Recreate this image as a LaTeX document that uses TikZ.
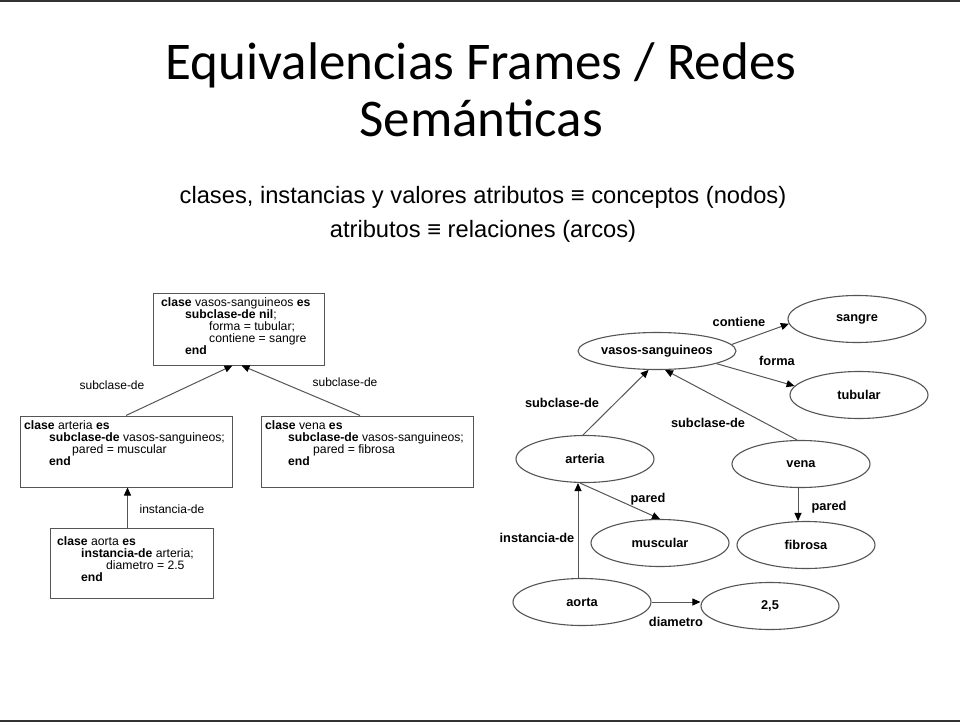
\documentclass[tikz,border=0pt]{standalone}
\usepackage{fontspec}
\setmainfont{Liberation Sans}
\newfontfamily\titlefont{Carlito}
\usetikzlibrary{shapes.geometric,arrows.meta}

\definecolor{edgegray}{HTML}{555555}
\definecolor{rulegray}{HTML}{333333}

\tikzset{
  framebox/.style={draw=edgegray, line width=1pt, rectangle, inner sep=0pt},
  codetext/.style={anchor=north west, align=left, inner sep=0pt,
    font=\fontsize{12.2}{12}\selectfont},
  concept/.style={draw=edgegray, line width=1.1pt, ellipse, inner sep=0pt,
    minimum width=138pt, minimum height=47pt,
    font=\bfseries\fontsize{12.8}{14}\selectfont},
  link/.style={draw=edgegray, line width=1pt,
    -{Triangle[length=8pt,width=7pt,color=black]}},
  linklabel/.style={inner sep=0pt, font=\fontsize{12}{14}\selectfont},
  conlabel/.style={inner sep=0pt, font=\bfseries\fontsize{12.8}{14}\selectfont},
}

\begin{document}
\begin{tikzpicture}[x=1pt, y=-1pt]
\useasboundingbox (0,0) rectangle (960,722);
\fill[white] (0,0) rectangle (960,722);

% slide rules
\draw[rulegray, line width=2pt] (0,1) -- (960,1);
\draw[rulegray, line width=2pt] (0,721) -- (960,721);

% title
\node[inner sep=0pt, anchor=base] (title1) at (481,80)
  {\titlefont\fontsize{53}{60}\selectfont Equivalencias Frames / Redes};
\node[inner sep=0pt, anchor=base] (title2) at (481,137)
  {\titlefont\fontsize{53}{60}\selectfont Semánticas};

% subtitle
\node[inner sep=0pt, anchor=base] (sub1) at (483,203)
  {\fontsize{23.7}{28}\selectfont clases, instancias y valores atributos ≡ conceptos (nodos)};
\node[inner sep=0pt, anchor=base] (sub2) at (483,237)
  {\fontsize{23.7}{28}\selectfont atributos ≡ relaciones (arcos)};

% ---------- frames ----------
\node[framebox, minimum width=171pt, minimum height=72pt] (fvasos) at (238.5,329) {};
\node[codetext] (tvasos) at (161,297) {%
  \textbf{clase} vasos-sanguineos \textbf{es}\\
  \hspace*{24pt}\textbf{subclase-de nil};\\
  \hspace*{48pt}forma = tubular;\\
  \hspace*{48pt}contiene = sangre\\
  \hspace*{24pt}\textbf{end}};

\node[framebox, minimum width=212pt, minimum height=71pt] (farteria) at (126,451.5) {};
\node[codetext] (tarteria) at (24,420) {%
  \textbf{clase} arteria \textbf{es}\\
  \hspace*{25pt}\textbf{subclase-de} vasos-sanguineos;\\
  \hspace*{48pt}pared = muscular\\
  \hspace*{25pt}\textbf{end}};

\node[framebox, minimum width=212pt, minimum height=71pt] (fvena) at (367,451.5) {};
\node[codetext] (tvena) at (265,420) {%
  \textbf{clase} vena \textbf{es}\\
  \hspace*{23pt}\textbf{subclase-de} vasos-sanguineos;\\
  \hspace*{48pt}pared = fibrosa\\
  \hspace*{23pt}\textbf{end}};

\node[framebox, minimum width=163pt, minimum height=70pt] (faorta) at (131.5,563) {};
\node[codetext] (taorta) at (57,536) {%
  \textbf{clase} aorta \textbf{es}\\
  \hspace*{24pt}\textbf{instancia-de} arteria;\\
  \hspace*{49pt}diametro = 2.5\\
  \hspace*{24pt}\textbf{end}};

\draw[link] (farteria.north) -- ([xshift=-6pt]fvasos.south);
\draw[link] ([xshift=-7pt]fvena.north) -- ([xshift=3pt]fvasos.south);
\draw[link] ([xshift=-4pt]faorta.north) -- ([xshift=-4pt]faorta.north |- farteria.south);

\node[linklabel] (lsub1) at (112,385) {subclase-de};
\node[linklabel] (lsub2) at (345,382) {subclase-de};
\node[linklabel] (linst) at (172,509) {instancia-de};

% ---------- semantic network ----------
\node[concept, minimum width=140pt, minimum height=37pt] (vasos) at (657,351) {vasos-sanguineos};
\node[concept] (sangre) at (857,319) {sangre};
\node[concept] (tubular) at (859,395) {tubular};
\node[concept] (arteria) at (585,459) {arteria};
\node[concept] (vena) at (801,464) {vena};
\node[concept] (muscular) at (660,543) {muscular};
\node[concept] (fibrosa) at (806,545) {fibrosa};
\node[concept] (aorta) at (582,602) {aorta};
\node[concept] (diam) at (770,606) {2,5};

\draw[link] ([xshift=-2pt]arteria.north) -- (vasos.246);
\draw[link] ([xshift=-4pt]vena.north) -- (vasos.293);
\draw[link] (vasos.5) -- (sangre.184);
\draw[link] (vasos.-12) -- (tubular.172);
\draw[link] ([xshift=-5pt]arteria.south) -- (muscular.north);
\draw[link] ([xshift=-3pt]vena.south) -- ([xshift=-3pt]vena.south |- fibrosa.north);
\draw[link] ([xshift=-4pt]aorta.north) -- ([xshift=-4pt]aorta.north |- arteria.south);
\draw[link] (aorta.east) -- (aorta.east -| diam.west);

\node[conlabel] (lcont) at (739,322) {contiene};
\node[conlabel] (lforma) at (777,361) {forma};
\node[conlabel] (lsc1) at (562,403) {subclase-de};
\node[conlabel] (lsc2) at (708,423) {subclase-de};
\node[conlabel] (lpar1) at (648,499) {pared};
\node[conlabel] (lpar2) at (829,507) {pared};
\node[conlabel] (linst2) at (537,538) {instancia-de};
\node[conlabel] (ldiam) at (676,622) {diametro};
\end{tikzpicture}
\end{document}
